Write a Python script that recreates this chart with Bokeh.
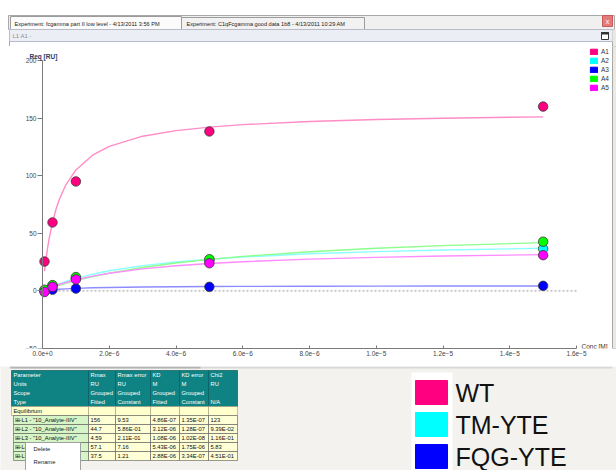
from bokeh.plotting import figure
from bokeh.models import (Range1d, LinearAxis, FixedTicker, BasicTickFormatter,
                          Label, Legend, LegendItem, BoxAnnotation)
from bokeh.layouts import column
from bokeh.embed import file_html
from bokeh.resources import INLINE
from bokeh.core.properties import value

# ---------------- data ----------------
conc = [6e-8, 3e-7, 1e-6, 5e-6, 1.5e-5]
series_names = ["A1", "A2", "A3", "A4", "A5"]
req_a1 = [25.5, 59.4, 95.0, 138.4, 160.0]
req_a2 = [0.5, 4.5, 11.0, 26.5, 36.6]
req_a3 = [0.0, 1.0, 2.0, 3.5, 4.4]
req_a4 = [1.0, 5.0, 12.0, 27.5, 42.7]
req_a5 = [-1.0, 3.5, 10.0, 24.0, 31.0]

fit_conc = [6e-8, 1e-7, 1.5e-7, 2e-7, 3e-7, 4e-7, 5e-7, 7e-7, 1e-6, 1.5e-6,
            2e-6, 3e-6, 4e-6, 5e-6, 6e-6, 8e-6, 1e-5, 1.2e-5, 1.5e-5]
fit_a1 = [17.1, 26.6, 36.8, 45.5, 59.5, 70.4, 79.1, 92.1, 105.0, 117.8,
          125.5, 134.3, 139.1, 142.2, 144.3, 147.1, 148.8, 149.9, 151.1]
fit_a2 = [0.84, 1.39, 2.05, 2.69, 3.92, 5.08, 6.17, 8.19, 10.85, 14.5,
          17.46, 21.9, 25.1, 27.5, 29.4, 32.2, 34.1, 35.5, 37.0]
fit_a3 = [0.24, 0.39, 0.56, 0.72, 1.0, 1.24, 1.45, 1.8, 2.21, 2.67,
          2.98, 3.38, 3.61, 3.77, 3.89, 4.04, 4.14, 4.21, 4.28]
fit_a4 = [0.62, 1.03, 1.53, 2.03, 2.99, 3.92, 4.81, 6.52, 8.88, 12.36,
          15.37, 20.32, 24.22, 27.37, 29.97, 34.01, 37.0, 39.31, 41.92]
fit_a5 = [0.77, 1.26, 1.86, 2.44, 3.54, 4.57, 5.55, 7.33, 9.66, 12.84,
          15.37, 19.13, 21.8, 23.8, 25.34, 27.57, 29.11, 30.24, 31.46]

x_ticks = [0, 2e-6, 4e-6, 6e-6, 8e-6, 1e-5, 1.2e-5, 1.4e-5, 1.6e-5]
y_ticks = [-50, 0, 50, 100, 150, 200]

table_header = [
    ["Parameter", "Units", "Scope", "Type"],
    ["Rmax", "RU", "Grouped", "Fitted"],
    ["Rmax error", "RU", "Grouped", "Constant"],
    ["KD", "M", "Grouped", "Fitted"],
    ["KD error", "M", "Grouped", "Constant"],
    ["Chi2", "RU", "", "N/A"],
]
row_names = ['\u229e-L1 - "10_Analyte-IIIV"', '\u229e-L2 - "10_Analyte-IIIV"',
             '\u229e-L3 - "10_Analyte-IIIV"', '\u229e-L4 - "10_Analyte-IIIV"',
             '\u229e-L5 - "10_Analyte-IIIV"']
rmax = ["156", "44.7", "4.59", "57.1", "37.5"]
rmax_err = ["9.53", "5.86E-01", "2.11E-01", "7.16", "1.21"]
kd = ["4.86E-07", "3.12E-06", "1.08E-06", "5.43E-06", "2.88E-06"]
kd_err = ["1.35E-07", "1.28E-07", "1.02E-08", "1.75E-06", "3.34E-07"]
chi2 = ["123", "9.39E-02", "1.16E-01", "5.83", "4.51E-01"]

big_legend_labels = ["WT", "TM-YTE", "FQG-YTE"]
big_legend_colors = ["#ff0080", "#00ffff", "#0000ff"]

point_colors = ["#ff0080", "#00ffff", "#0000ff", "#00ff00", "#ff00ff"]
fit_colors = ["#ff8cc6", "#8cffff", "#8c8cff", "#8cff8c", "#ff8cff"]

FONT = value("Liberation Sans")
NAN = float("nan")


def chrome_fig(w, h, x0, x1, ybot, ytop, bg):
    f = figure(width=w, height=h, x_range=Range1d(x0, x1), y_range=Range1d(ybot, ytop),
               min_border=0, toolbar_location=None, output_backend="svg",
               x_axis_type=None, y_axis_type=None, title=None, frame_align=False)
    f.outline_line_color = None
    f.background_fill_color = bg
    f.border_fill_color = bg
    return f


# ---------------- top chrome (page y 0..46) ----------------
top = chrome_fig(616, 46, 0, 616, 46, 0, "white")
top.quad(left=[8], right=[614], top=[15], bottom=[29], fill_color="#f0f0f0", line_color="#a8a8a8")
top.quad(left=[10, 181], right=[181, 364], top=[16, 17], bottom=[29, 29],
         fill_color=["#fbfbfb", "#f2f2f2"], line_color="#9c9c9c")
top.text(x=[14, 186], y=[23, 23],
         text=["Experiment: fcgamma part II low level - 4/13/2011 3:56 PM",
               "Experiment: C1qFcgamma good data 1b8 - 4/13/2011 10:29 AM"],
         text_font=FONT, text_font_size="5.6px", text_baseline="middle", text_color="#222222")
top.quad(left=[602], right=[612], top=[15], bottom=[26], fill_color="#e57a7a", line_color="#c85a5a")
top.text(x=[607], y=[20.5], text=["x"], text_font=FONT, text_font_size="7px",
         text_align="center", text_baseline="middle", text_color="white")
top.quad(left=[9], right=[612], top=[29], bottom=[41], fill_color="#eceef5", line_color="#b9bcc8")
top.text(x=[12], y=[35], text=["L1 A1 -"], text_font=FONT, text_font_size="6px",
         text_baseline="middle", text_color="#8a8a8a")
top.quad(left=[601], right=[608], top=[32], bottom=[39], fill_color="white", line_color="#333333")
top.quad(left=[601], right=[608], top=[32], bottom=[33.5], fill_color="#333333", line_color="#333333")
top.quad(left=[612], right=[616], top=[29], bottom=[46], fill_color="#ebe9e4", line_color=None)
top.segment(x0=[9, 612], y0=[41, 41], x1=[9, 612], y1=[46, 46], line_color="#a8a8a8")

# ---------------- chart (page y 46..366) ----------------
CH_H = 320
PX_X = 534 / 1.6e-5   # pixels per M
PX_Y = 288 / 250.0    # pixels per RU
FRAME_LEFT = 22        # page x of frame left
x_start = -(42 - FRAME_LEFT) / PX_X
x_end = x_start + (616 - FRAME_LEFT) / PX_X
y_end = -50 + (348 - 46) / PX_Y

p = figure(width=616, height=CH_H, x_range=Range1d(x_start, x_end), y_range=Range1d(-50, y_end),
           min_border_left=FRAME_LEFT, min_border_right=0, min_border_top=0,
           min_border_bottom=366 - 348,
           toolbar_location=None, output_backend="svg", x_axis_type=None, y_axis_type=None,
           title=None, frame_align=False)
p.outline_line_color = None
p.background_fill_color = "white"
p.border_fill_color = "white"

xaxis = LinearAxis(ticker=FixedTicker(ticks=x_ticks),
                   formatter=BasicTickFormatter(use_scientific=True, precision=1),
                   bounds=(x_ticks[0], x_ticks[-1]))
yaxis = LinearAxis(ticker=FixedTicker(ticks=y_ticks), bounds=(y_ticks[0], y_ticks[-1]),
                   fixed_location=0)
for ax in (xaxis, yaxis):
    ax.axis_line_color = "#7a7a7a"
    ax.major_tick_line_color = "#7a7a7a"
    ax.minor_tick_line_color = None
    ax.major_label_text_font = "Liberation Sans"
    ax.major_label_text_font_size = "6.5px"
    ax.major_label_text_color = "#444444"
    ax.major_label_standoff = 2
xaxis.major_tick_in = 3
xaxis.major_tick_out = 0
yaxis.major_tick_in = 0
yaxis.major_tick_out = 5
yaxis.major_label_standoff = 1
p.add_layout(xaxis, "below")
p.add_layout(yaxis, "left")

# window edge at right
p.add_layout(BoxAnnotation(left=(612 - 42) / PX_X, fill_color="#ebe9e4", fill_alpha=1,
                           line_color="#a8a8a8", line_alpha=1, level="underlay"))

# zero reference line
p.line(x=[x_ticks[0], x_ticks[-1]], y=[0, 0], line_color="#9a9a9a", line_dash="2 2", line_width=1)

fits = [fit_a1, fit_a2, fit_a3, fit_a4, fit_a5]
reqs = [req_a1, req_a2, req_a3, req_a4, req_a5]
for f, c in zip(fits, fit_colors):
    p.line(x=fit_conc, y=f, line_color=c, line_width=1.4)
for r, c in zip(reqs, point_colors):
    p.scatter(x=conc, y=r, size=9.5, fill_color=c, line_color="#3a3a3a", line_width=0.8)

items = []
for name, c in zip(series_names, point_colors):
    rr = p.quad(left=[NAN], right=[NAN], top=[NAN], bottom=[NAN], fill_color=c, line_color=c)
    items.append(LegendItem(label=name, renderers=[rr]))
legend = Legend(items=items, location=(589 - FRAME_LEFT, 348 - 91), orientation="vertical",
                glyph_width=9, glyph_height=7, label_height=7, label_width=6,
                label_standoff=3, spacing=2, padding=0, margin=0,
                border_line_color=None, background_fill_alpha=0,
                label_text_font="Liberation Sans", label_text_font_size="6.5px",
                label_text_color="#333333")
p.add_layout(legend)

p.add_layout(Label(x=0, y=y_ticks[-1], x_offset=-13, y_offset=1, text="Req [RU]",
                   text_font="Liberation Sans", text_font_size="6.5px", text_font_style="bold",
                   text_color="#2a3a6a", text_baseline="bottom"))
p.add_layout(Label(x=x_ticks[-1], y=y_ticks[0], x_offset=5, y_offset=2, text="Conc [M]",
                   text_font="Liberation Sans", text_font_size="6.5px",
                   text_color="#333333", text_baseline="middle"))

# ---------------- bottom: table and legend (page y 366..470) ----------------
bot = chrome_fig(616, 470 - 366, 0, 616, 470, 366, "#f3f2ee")
bot.quad(left=[9], right=[612], top=[366], bottom=[368], fill_color="#d8d8d8", line_color=None)
bot.quad(left=[10], right=[200], top=[366], bottom=[368], fill_color="#b4b4b4", line_color=None)

col_edges = [11, 88, 115, 150, 179, 208, 237]
row_h = 9
hdr_top = 370
bot.quad(left=col_edges[:-1], right=col_edges[1:], top=[hdr_top] * 6, bottom=[hdr_top + 4 * row_h] * 6,
         fill_color="#0f8383", line_color="#0a5c5c", line_width=0.7)
tx, ty, tt = [], [], []
for ci, lines in enumerate(table_header):
    for li, s in enumerate(lines):
        if s:
            tx.append(col_edges[ci] + 2)
            ty.append(hdr_top + li * row_h + row_h / 2)
            tt.append(s)
bot.text(x=tx, y=ty, text=tt, text_font=FONT, text_font_size="5.8px",
         text_baseline="middle", text_color="white")

eq_top = hdr_top + 4 * row_h
bot.quad(left=col_edges[:-1], right=col_edges[1:], top=[eq_top] * 6, bottom=[eq_top + row_h] * 6,
         fill_color="#ffffcc", line_color="#9a9a80", line_width=0.6)
cells_l, cells_r, cells_t, cells_b, cells_c = [], [], [], [], []
dx, dy, dt = [col_edges[0] + 2], [eq_top + row_h / 2], ["Equilibrium"]
cols = [row_names, rmax, rmax_err, kd, kd_err, chi2]
for ri in range(len(row_names)):
    t0 = eq_top + (ri + 1) * row_h
    for ci in range(6):
        cells_l.append(col_edges[ci] + (2 if ci == 0 else 0))
        cells_r.append(col_edges[ci + 1])
        cells_t.append(t0)
        cells_b.append(t0 + row_h)
        cells_c.append("#d6f5c6" if ci == 0 else "#ffffd6")
        dx.append(col_edges[ci] + (3 if ci == 0 else 2))
        dy.append(t0 + row_h / 2)
        dt.append(cols[ci][ri])
bot.quad(left=cells_l, right=cells_r, top=cells_t, bottom=cells_b,
         fill_color=cells_c, line_color="#555555", line_width=0.6)
bot.text(x=dx, y=dy, text=dt, text_font=FONT, text_font_size="5.8px",
         text_baseline="middle", text_color="#111111")

# context menu
menu_top = eq_top + 4 * row_h
bot.quad(left=[25], right=[80], top=[menu_top], bottom=[471], fill_color="white", line_color="#a0a0a0")
bot.text(x=[33, 33], y=[menu_top + 6, menu_top + 19], text=["Delete", "Rename"],
         text_font=FONT, text_font_size="5.8px", text_baseline="middle", text_color="#222222")

# big legend
bot.quad(left=[411], right=[452], top=[372], bottom=[471], fill_color="white", line_color=None)
sq_top = [380 + 32 * i for i in range(len(big_legend_labels))]
bot.quad(left=[415] * 3, right=[447] * 3, top=sq_top, bottom=[t + 24 for t in sq_top],
         fill_color=big_legend_colors, line_color=big_legend_colors)
bot.text(x=[455] * 3, y=[t + 12 for t in sq_top], text=big_legend_labels,
         text_font=FONT, text_font_size="25px", text_baseline="middle", text_color="#111111")

layout = column(top, p, bot, spacing=0)
open("out.html", "w").write(file_html(layout, INLINE))
